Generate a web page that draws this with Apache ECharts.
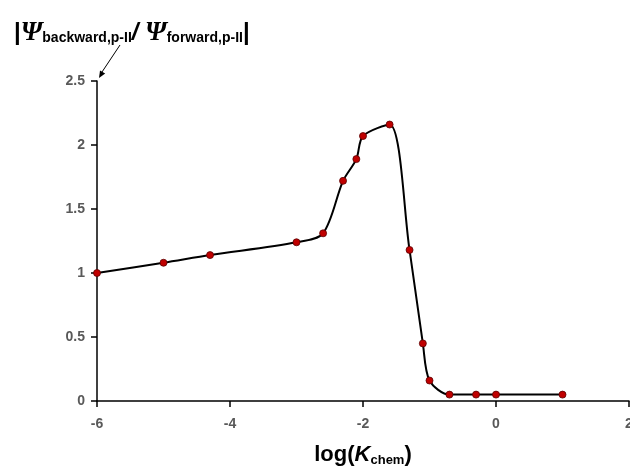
<!DOCTYPE html>
<html>
<head>
<meta charset="utf-8">
<script src="https://cdn.jsdelivr.net/npm/echarts@6/dist/echarts.min.js"></script>
<style>
  html, body { margin: 0; padding: 0; background: #fff; }
  #chart { width: 630px; height: 471px; }
</style>
</head>
<body>
<div id="chart"></div>
<script>
// log(K_chem) values and the ratio
var logK = [-6, -5, -4.3, -3, -2.6, -2.3, -2.1, -2, -1.6, -1.3, -1.1, -1, -0.7, -0.3, 0, 1];
var ratio = [1.0, 1.08, 1.14, 1.24, 1.31, 1.72, 1.89, 2.07, 2.16, 1.18, 0.45, 0.16, 0.05, 0.05, 0.05, 0.05];

var xTicks = { min: -6, max: 2, interval: 2 };
var yTicks = { min: 0, max: 2.5, interval: 0.5 };

var points = logK.map(function (x, i) { return [x, ratio[i]]; });

var chart = echarts.init(document.getElementById('chart'));
var labelFont = 'Liberation Sans, Arial, sans-serif';

var option = {
    animation: false,
    grid: { left: 97, right: 1, top: 81, bottom: 70, containLabel: false, outerBoundsMode: 'none' },
    title: {
        left: 9,
        top: 13,
        text: '{bar||}{psi|Ψ}{sub|backward,p-II}{sl|/ }{psi|Ψ}{sub|forward,p-II}{bar||}',
        textStyle: {
            rich: {
                bar: { fontSize: 24, fontFamily: labelFont, color: '#000', lineHeight: 30 },
                psi: { fontSize: 27, fontFamily: 'Liberation Serif, serif', fontStyle: 'italic', color: '#000', lineHeight: 30 },
                sl: { fontSize: 24, fontFamily: labelFont, fontWeight: 'bold', fontStyle: 'italic', color: '#000', lineHeight: 30 },
                sub: { fontSize: 14, fontFamily: labelFont, fontWeight: 'bold', color: '#000', lineHeight: 30, padding: [10, 0, 0, 0] }
            }
        }
    },
    xAxis: {
        type: 'value',
        min: xTicks.min,
        max: xTicks.max,
        interval: xTicks.interval,
        name: '{a|log(}{k|K}{s|chem}{a|)}',
        nameLocation: 'middle',
        nameGap: 41,
        nameTextStyle: {
            rich: {
                a: { fontSize: 22, fontWeight: 'bold', fontFamily: labelFont, color: '#000', lineHeight: 26 },
                k: { fontSize: 22, fontWeight: 'bold', fontStyle: 'italic', fontFamily: labelFont, color: '#000', lineHeight: 26 },
                s: { fontSize: 13, fontWeight: 'bold', fontFamily: labelFont, color: '#000', lineHeight: 26, padding: [10, 0, 0, 0] }
            }
        },
        axisLine: { onZero: false, lineStyle: { color: '#000', width: 1.5 } },
        axisTick: { show: true, length: 6, lineStyle: { color: '#000', width: 1.5 } },
        axisLabel: { color: '#595959', fontSize: 14, fontWeight: 'bold', fontFamily: labelFont, margin: 16 },
        splitLine: { show: false }
    },
    yAxis: {
        type: 'value',
        min: yTicks.min,
        max: yTicks.max,
        interval: yTicks.interval,
        axisLine: { show: true, onZero: false, lineStyle: { color: '#000', width: 1.5 } },
        axisTick: { show: true, length: 6, lineStyle: { color: '#000', width: 1.5 } },
        axisLabel: { color: '#595959', fontSize: 14, fontWeight: 'bold', fontFamily: labelFont, margin: 12 },
        splitLine: { show: false }
    },
    series: [
        {
            type: 'line',
            data: points,
            smooth: 0.3,
            symbol: 'circle',
            symbolSize: 7,
            lineStyle: { color: '#000', width: 2 },
            itemStyle: { color: '#c00000', borderColor: '#5a0000', borderWidth: 0.8 },
            z: 3
        }
    ],
    graphic: [
        {
            type: 'line',
            shape: { x1: 120, y1: 45, x2: 102, y2: 72 },
            style: { stroke: '#000', lineWidth: 1 }
        },
        {
            type: 'polygon',
            shape: { points: [[99, 78], [105.2, 73.5], [100, 70.5]] },
            style: { fill: '#000' }
        }
    ]
};

chart.setOption(option);
</script>
</body>
</html>
